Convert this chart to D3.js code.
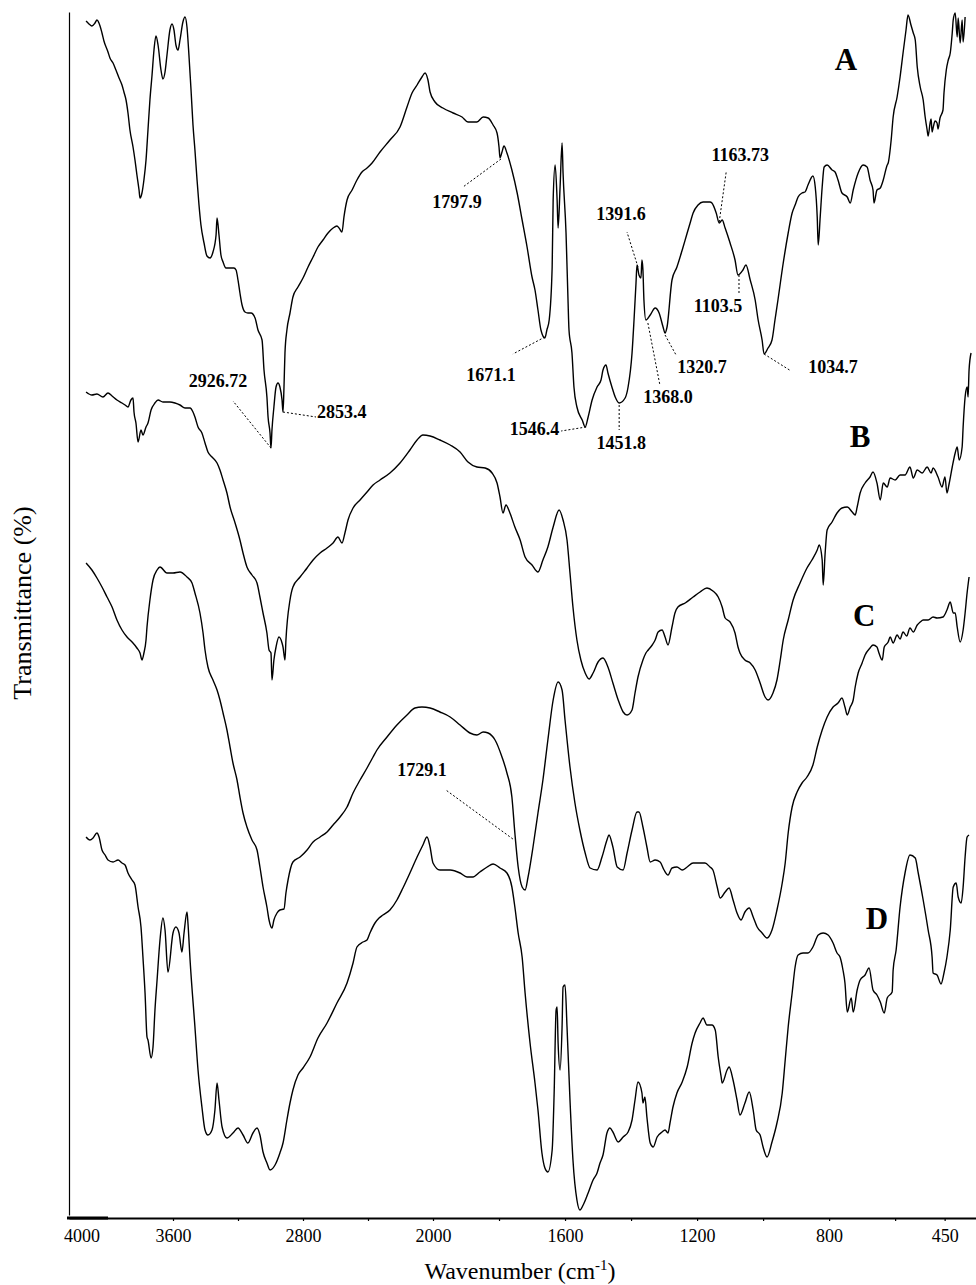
<!DOCTYPE html>
<html>
<head>
<meta charset="utf-8">
<script src="https://cdn.jsdelivr.net/npm/d3@7"></script>
<style>
  body { margin: 0; background: #fff; }
  svg text { font-family: "Liberation Serif", "Times New Roman", serif; fill: #000; }
</style>
</head>
<body>
<div id="chart"></div>
<script>
const w = 976;
const h = 1285;

// FTIR spectra: [wavenumber (cm-1), transmittance (arbitrary units)]
const specA = [
  [4135,119.4],[4117,119.1],[4099,118.9],[4080,119.2],[4068,119.5],[4049,118.9],[4037,118.2],[4025,117.4],[4000,116.3],[3988,115.7],
  [3969,115.2],[3951,114.5],[3932,113.7],[3914,113.0],[3902,112.3],[3889,111.5],[3877,110.2],[3865,108.5],[3846,106.8],[3834,105.5],
  [3822,104.0],[3809,102.5],[3803,101.7],[3791,102.2],[3779,103.5],[3766,105.5],[3754,108.5],[3742,111.5],[3729,114.0],[3717,116.5],
  [3705,117.9],[3692,117.0],[3674,114.5],[3662,113.6],[3649,114.3],[3637,116.0],[3619,118.5],[3606,119.1],[3594,118.5],[3582,117.0],
  [3569,116.5],[3557,117.5],[3539,119.3],[3526,119.8],[3514,118.8],[3502,116.0],[3489,112.5],[3477,109.0],[3465,106.5],[3452,103.5],
  [3440,101.0],[3428,99.0],[3409,97.2],[3391,95.9],[3372,95.7],[3354,96.3],[3335,98.0],[3329,99.7],[3317,98.0],[3305,96.0],
  [3292,95.3],[3274,94.7],[3249,94.7],[3225,94.7],[3212,94.5],[3200,93.5],[3188,92.2],[3175,91.0],[3157,90.3],[3139,90.2],
  [3120,90.2],[3095,89.7],[3077,88.5],[3052,87.5],[3040,84.5],[3022,81.8],[3015,79.8],[3003,78.2],[2997,76.7],[2991,78.5],
  [2979,80.8],[2966,82.8],[2954,83.2],[2942,82.8],[2929,81.5],[2923,80.3],[2917,82.8],[2911,86.2],[2899,88.5],[2880,90.2],
  [2862,91.8],[2831,92.8],[2800,93.7],[2769,94.8],[2738,95.8],[2708,96.8],[2677,97.5],[2646,98.2],[2615,98.7],[2591,98.9],
  [2578,98.7],[2560,98.3],[2548,99.8],[2529,101.5],[2498,102.5],[2468,103.5],[2437,104.3],[2406,104.7],[2375,105.2],[2326,106.3],
  [2265,107.5],[2203,108.8],[2160,110.8],[2129,112.2],[2098,113.0],[2068,113.8],[2049,114.2],[2031,113.5],[2018,112.3],[1994,111.3],
  [1970,110.7],[1939,110.2],[1912,109.8],[1894,109.3],[1867,109.3],[1848,109.8],[1833,109.7],[1818,109.0],[1806,108.2],[1800,106.8],
  [1797,105.7],[1791,106.3],[1785,106.9],[1776,106.2],[1761,104.5],[1745,102.2],[1730,99.5],[1715,96.8],[1700,93.8],[1691,92.5],
  [1682,90.5],[1673,88.5],[1661,87.7],[1655,88.5],[1648,89.5],[1639,94.8],[1636,101.5],[1630,105.0],[1624,101.5],[1621,98.7],
  [1615,102.8],[1609,107.2],[1606,104.2],[1597,98.2],[1591,91.5],[1588,88.5],[1579,86.2],[1573,82.8],[1564,80.8],[1548,79.5],
  [1539,78.8],[1530,79.8],[1518,81.5],[1503,82.8],[1491,83.5],[1485,84.5],[1476,85.0],[1470,84.2],[1458,82.8],[1448,81.8],
  [1436,81.2],[1418,81.7],[1409,82.8],[1397,86.2],[1391,89.5],[1385,93.2],[1382,95.0],[1376,94.0],[1370,93.7],[1367,95.5],
  [1364,94.5],[1361,91.5],[1355,89.5],[1342,90.0],[1327,90.7],[1315,90.2],[1303,88.8],[1297,88.2],[1291,88.8],[1276,93.5],
  [1261,94.8],[1245,96.5],[1230,98.2],[1221,99.2],[1212,100.2],[1197,101.0],[1182,101.3],[1161,101.3],[1155,101.2],[1142,100.2],
  [1133,99.2],[1124,99.5],[1115,98.7],[1100,97.2],[1085,95.5],[1076,94.0],[1061,94.5],[1052,95.0],[1039,93.5],[1024,91.5],
  [1015,89.5],[1003,87.5],[997,86.1],[985,86.7],[973,87.5],[964,89.5],[955,91.5],[939,95.2],[924,98.2],[912,100.2],
  [903,101.0],[894,101.8],[882,102.2],[873,102.3],[864,103.0],[849,103.9],[842,102.8],[836,99.8],[833,97.0],[827,99.8],
  [821,102.8],[815,104.8],[806,105.0],[791,104.5],[782,104.3],[773,103.5],[761,102.2],[745,101.8],[736,101.2],[727,102.5],
  [712,104.2],[697,105.0],[685,104.8],[676,103.5],[667,102.5],[664,101.2],[655,102.5],[645,102.7],[636,103.5],[624,105.0],
  [621,105.2],[612,107.5],[606,109.8],[594,111.8],[585,113.8],[576,116.2],[567,118.5],[561,120.0],[552,119.0],[545,118.2],
  [539,117.5],[533,114.8],[524,112.8],[515,111.5],[509,109.8],[503,108.5],[500,107.9],[494,109.2],[491,109.6],[488,108.3],
  [485,108.7],[479,109.4],[473,109.2],[470,108.6],[464,109.7],[455,110.5],[452,112.2],[445,114.5],[439,115.5],[433,116.2],
  [427,118.2],[424,119.5],[418,120.2],[412,117.8],[409,119.7],[403,117.2],[397,119.5],[394,117.3],[388,119.8]
];

const specB = [
  [4135,82.3],[4099,82.0],[4068,82.1],[4031,81.8],[4000,82.2],[3975,81.9],[3945,81.5],[3914,81.2],[3895,81.0],[3877,80.8],
  [3859,81.5],[3846,81.7],[3840,80.3],[3828,79.2],[3815,77.3],[3797,78.5],[3785,78.0],[3766,78.8],[3754,79.2],[3735,80.5],
  [3711,81.2],[3692,81.5],[3662,81.3],[3619,81.3],[3588,81.2],[3557,81.0],[3526,80.7],[3495,80.7],[3477,80.3],[3465,79.8],
  [3446,78.8],[3422,78.2],[3403,77.2],[3385,76.3],[3360,75.8],[3329,75.2],[3311,74.5],[3292,73.5],[3268,72.2],[3249,70.8],
  [3218,69.2],[3188,67.5],[3169,66.2],[3145,64.8],[3114,64.0],[3083,63.2],[3065,61.8],[3046,60.2],[3022,58.2],[3009,56.5],
  [2997,56.2],[2991,53.5],[2979,55.5],[2966,56.8],[2948,57.8],[2929,57.2],[2923,56.8],[2911,55.5],[2905,57.5],[2880,61.5],
  [2862,62.8],[2818,63.8],[2775,64.7],[2738,65.5],[2695,66.2],[2652,66.7],[2615,67.2],[2585,67.8],[2560,67.2],[2542,68.2],
  [2523,69.5],[2492,70.7],[2449,71.5],[2406,72.3],[2369,73.0],[2326,73.5],[2265,74.2],[2203,75.2],[2142,76.5],[2098,77.5],
  [2062,78.0],[2018,77.9],[1979,77.5],[1948,77.0],[1918,76.3],[1894,75.3],[1867,74.8],[1842,74.7],[1821,74.2],[1806,73.2],
  [1797,71.8],[1788,70.2],[1779,71.0],[1767,70.2],[1752,68.8],[1736,67.5],[1721,65.8],[1700,65.0],[1682,64.3],[1667,65.5],
  [1652,66.8],[1636,68.8],[1618,70.5],[1606,69.5],[1594,67.5],[1585,64.2],[1576,60.8],[1564,57.5],[1552,55.5],[1539,54.2],
  [1527,53.6],[1515,54.2],[1500,55.3],[1485,55.7],[1470,54.8],[1455,53.2],[1439,51.5],[1424,50.3],[1412,50.0],[1397,50.5],
  [1388,52.2],[1379,53.8],[1364,55.5],[1355,56.2],[1348,56.5],[1336,57.0],[1327,57.5],[1318,58.3],[1306,58.5],[1297,57.8],
  [1288,57.0],[1276,58.8],[1267,60.2],[1258,60.8],[1236,61.2],[1212,61.8],[1191,62.3],[1170,62.7],[1152,62.4],[1136,61.8],
  [1124,60.8],[1115,59.7],[1100,59.3],[1085,58.2],[1076,56.8],[1070,56.2],[1055,55.5],[1039,55.2],[1024,54.5],[1009,53.2],
  [994,51.8],[985,51.5],[970,52.2],[958,53.5],[948,55.5],[939,57.5],[924,59.5],[909,61.5],[888,63.2],[867,64.7],
  [852,65.5],[836,66.5],[830,67.0],[821,65.5],[818,63.0],[812,66.2],[806,68.5],[791,69.3],[776,70.2],[761,70.7],
  [745,70.8],[730,70.3],[721,70.0],[715,70.8],[706,72.2],[691,73.2],[676,73.8],[667,74.3],[655,73.2],[645,71.5],
  [636,73.2],[624,72.8],[615,73.7],[600,73.5],[585,74.0],[570,74.0],[555,74.8],[545,73.7],[533,74.5],[518,74.2],
  [503,74.8],[491,74.2],[485,74.7],[470,73.8],[458,72.8],[449,73.8],[443,72.2],[436,73.2],[427,74.8],[418,76.2],
  [412,76.8],[406,75.5],[397,76.8],[394,78.8],[388,81.8],[382,82.8],[379,81.8],[376,84.5],[370,86.2]
];

const specC = [
  [4135,65.2],[4099,64.5],[4068,63.7],[4037,62.8],[4006,61.8],[3975,60.8],[3945,59.5],[3914,58.5],[3883,57.8],[3852,57.3],
  [3822,56.7],[3803,56.2],[3791,55.5],[3779,56.2],[3766,57.5],[3760,58.8],[3742,61.5],[3723,63.5],[3698,64.5],[3680,64.8],
  [3637,64.2],[3600,64.2],[3557,64.3],[3514,63.8],[3483,63.2],[3465,62.2],[3434,60.2],[3415,58.2],[3403,56.5],[3385,54.8],
  [3354,53.5],[3329,52.5],[3311,51.5],[3292,50.2],[3268,48.5],[3249,46.8],[3231,45.2],[3206,43.5],[3188,41.8],[3169,40.2],
  [3145,38.8],[3114,37.5],[3083,36.5],[3065,34.8],[3046,32.8],[3022,30.8],[3009,29.5],[2991,28.7],[2979,29.5],[2960,30.2],
  [2942,30.5],[2917,30.6],[2905,32.2],[2892,33.5],[2862,35.3],[2818,35.8],[2775,36.5],[2738,37.3],[2695,37.8],[2652,38.3],
  [2615,39.0],[2572,39.8],[2529,40.8],[2492,42.2],[2449,43.5],[2406,44.7],[2369,45.8],[2345,46.5],[2283,47.8],[2222,49.0],
  [2160,50.0],[2111,50.7],[2068,50.8],[2018,50.7],[1979,50.3],[1948,49.8],[1918,49.0],[1888,48.2],[1867,48.0],[1848,48.3],
  [1833,48.2],[1812,47.5],[1791,45.8],[1776,44.2],[1761,41.8],[1752,38.2],[1742,34.8],[1730,32.8],[1721,32.5],[1712,33.8],
  [1697,36.8],[1682,40.2],[1667,43.5],[1652,47.5],[1636,51.5],[1621,53.3],[1609,52.5],[1600,49.5],[1585,44.8],[1570,41.2],
  [1555,38.5],[1539,36.2],[1524,34.7],[1503,34.5],[1488,35.8],[1473,37.5],[1467,38.0],[1455,36.8],[1442,34.8],[1424,34.5],
  [1412,36.2],[1397,38.5],[1382,40.3],[1376,40.3],[1364,38.8],[1352,36.8],[1342,35.3],[1327,35.5],[1312,35.3],[1300,34.5],
  [1288,34.0],[1276,34.7],[1261,34.8],[1245,34.5],[1230,34.8],[1212,35.2],[1191,35.2],[1176,35.2],[1161,34.8],[1152,34.5],
  [1139,32.8],[1130,31.7],[1115,32.3],[1103,32.7],[1091,31.5],[1079,30.2],[1067,29.5],[1055,30.3],[1042,30.7],[1030,29.8],
  [1018,28.8],[1003,28.2],[988,27.7],[973,28.5],[958,30.5],[942,33.2],[933,35.2],[924,38.2],[912,40.8],[897,42.3],
  [882,43.2],[867,43.8],[849,45.0],[836,46.8],[821,48.5],[806,49.8],[788,50.8],[773,51.2],[761,51.7],[752,50.8],
  [745,50.0],[736,50.8],[727,51.5],[721,52.8],[712,54.2],[700,55.2],[691,56.0],[676,56.7],[667,57.0],[655,56.8],
  [649,56.2],[639,55.5],[633,56.8],[621,57.3],[615,57.8],[606,57.2],[594,58.0],[585,57.6],[576,58.3],[565,57.9],
  [555,58.7],[545,58.3],[533,59.0],[524,59.3],[515,59.5],[500,59.5],[485,59.8],[473,59.7],[455,59.8],[443,60.5],
  [433,61.3],[424,60.2],[418,60.2],[412,58.8],[403,57.3],[394,58.5],[388,60.2],[382,62.2],[376,63.8]
];

const specD = [
  [4135,37.8],[4111,37.5],[4092,37.7],[4068,38.2],[4055,37.8],[4037,36.5],[4018,36.0],[4000,35.5],[3969,35.3],[3938,35.5],
  [3914,35.2],[3895,35.0],[3877,34.2],[3852,33.5],[3834,33.0],[3815,30.8],[3797,28.8],[3785,25.8],[3772,22.2],[3760,17.8],
  [3754,17.5],[3735,15.7],[3723,16.8],[3711,20.5],[3698,23.5],[3680,27.5],[3662,29.7],[3649,28.5],[3631,24.3],[3600,28.2],
  [3582,28.8],[3563,28.2],[3545,26.3],[3532,28.2],[3514,30.3],[3508,29.2],[3495,25.5],[3465,18.8],[3446,14.5],[3422,10.8],
  [3403,8.5],[3385,8.0],[3360,8.5],[3342,10.5],[3329,13.2],[3317,11.5],[3298,8.8],[3268,7.7],[3231,8.2],[3200,8.7],
  [3169,8.0],[3139,7.2],[3108,8.2],[3083,8.7],[3065,8.0],[3046,6.3],[3022,5.2],[3003,4.5],[2972,5.0],[2942,6.2],
  [2923,7.2],[2899,9.5],[2880,11.2],[2862,12.5],[2831,14.0],[2800,14.7],[2757,15.8],[2708,17.7],[2652,19.2],[2591,21.2],
  [2529,23.2],[2492,25.2],[2468,26.8],[2431,27.3],[2406,27.5],[2388,28.2],[2357,29.2],[2332,29.7],[2308,30.0],[2265,30.5],
  [2222,31.5],[2185,32.7],[2142,34.2],[2098,35.8],[2062,37.0],[2037,37.8],[2018,36.8],[2000,35.2],[1979,34.5],[1948,34.5],
  [1918,34.2],[1897,33.8],[1879,33.8],[1858,34.3],[1836,34.8],[1818,35.1],[1797,34.7],[1776,34.2],[1761,32.8],[1752,30.8],
  [1742,28.2],[1730,25.8],[1721,22.2],[1706,17.2],[1691,13.2],[1682,10.5],[1670,6.2],[1661,4.7],[1652,4.3],[1639,6.5],
  [1633,12.2],[1627,20.5],[1624,20.8],[1621,17.2],[1615,14.5],[1609,18.8],[1606,22.8],[1600,23.0],[1594,18.8],[1585,11.5],
  [1576,5.5],[1564,1.5],[1555,0.5],[1545,1.0],[1530,2.2],[1515,3.5],[1503,4.2],[1494,5.2],[1485,6.0],[1473,8.2],
  [1464,8.7],[1455,8.3],[1439,7.3],[1424,7.8],[1409,8.3],[1397,9.5],[1388,11.5],[1379,13.3],[1367,12.2],[1364,11.2],
  [1358,11.8],[1352,9.8],[1342,7.2],[1333,6.8],[1321,7.8],[1306,8.3],[1297,8.5],[1288,8.2],[1282,9.2],[1273,10.8],
  [1261,12.2],[1245,13.3],[1230,14.8],[1215,17.2],[1206,18.2],[1191,19.2],[1182,19.7],[1170,19.0],[1155,19.0],[1145,18.5],
  [1136,15.8],[1127,13.8],[1124,13.2],[1109,14.5],[1103,14.8],[1091,13.5],[1079,11.5],[1070,10.0],[1055,11.2],[1042,12.3],
  [1030,10.5],[1021,8.5],[1009,8.0],[1000,6.8],[988,5.8],[973,7.3],[958,9.2],[942,12.2],[933,15.5],[924,18.8],
  [912,22.2],[903,24.8],[894,26.0],[879,26.2],[864,26.2],[849,26.8],[833,28.0],[818,28.2],[803,28.0],[788,27.2],
  [776,26.2],[767,25.8],[758,24.5],[752,23.2],[745,20.3],[733,21.7],[727,20.3],[715,22.5],[706,23.5],[691,24.0],
  [679,24.7],[667,22.5],[655,22.0],[645,21.3],[633,20.2],[624,21.7],[609,22.3],[606,24.5],[597,26.5],[585,30.8],
  [570,34.2],[555,36.0],[539,35.7],[530,34.2],[515,31.5],[500,28.5],[488,25.8],[485,24.2],[473,24.0],[461,23.1],
  [452,24.2],[443,25.8],[433,28.5],[424,32.8],[415,33.2],[409,31.8],[400,31.2],[394,32.8],[388,35.8],[382,37.8],[376,38.0]
];

const seriesNames = ["A", "B", "C", "D"];
const seriesData = [specA, specB, specC, specD];
// where each curve's letter sits, in chart units [wavenumber, transmittance]
const namePos = [[749, 114.5], [706, 76.8], [694, 58.9], [655, 28.6]];

// annotated bands: label, anchor on the curve [wavenumber, transmittance]
const peakText = ["1797.9", "1671.1", "1546.4", "1451.8", "1391.6", "1368.0", "1320.7",
  "1163.73", "1103.5", "1034.7", "2926.72", "2853.4", "1729.1"];
const peakAnchor = [[1794, 105.6], [1661, 87.8], [1536, 78.8], [1436, 81.0], [1379, 94.8],
  [1349, 89.2], [1297, 88.0], [1133, 99.3], [1073, 94.0], [997, 86.1], [2997, 76.7],
  [2923, 80.3], [1758, 37.6]];
// leader line end and text offsets (px) from the anchor
const peakOffset = [
  [-38, 28, -44, 49, "middle"], [-32, 17, -54, 44, "middle"], [-25, 4, -27, 8, "end"],
  [0, 25, 2, 44, "middle"], [-11, -35, -17, -47, "middle"], [12, 62, 20, 80, "middle"],
  [11, 20, 37, 38, "middle"], [7, -50, 21, -61, "middle"], [0, 18, -21, 37, "middle"],
  [27, 17, 69, 19, "middle"], [-38, -47, -53, -61, "middle"], [33, 5, 34, 6, "start"],
  [-67, -49, -91, -63, "middle"]
];

const tickVals = [3600, 3200, 2800, 2400, 2000, 1800, 1600, 1400, 1200, 1000, 800, 600, 450];
const tickLabeled = [3600, 2800, 2000, 1600, 1200, 800, 450];

const svg = d3.select("#chart").append("svg").attr("width", w).attr("height", h);

// expanded scale below 2000 cm-1, as on the instrument print-out
const xScale = d3.scaleLinear().domain([4240, 2000, 355]).range([69, 433, 976]);
const yScale = d3.scaleLinear().domain([0, 120.3]).range([1215, 12]);

const xAxis = d3.axisBottom(xScale)
  .tickValues(tickVals)
  .tickFormat((d) => (tickLabeled.includes(d) ? d : ""))
  .tickSizeInner(3)
  .tickSizeOuter(0)
  .tickPadding(8);
const gx = svg.append("g").attr("transform", "translate(0,1218)").call(xAxis);
gx.select(".domain").attr("stroke", "#000").attr("stroke-width", 2);
gx.selectAll(".tick line").attr("stroke", "#000").attr("stroke-width", 1.2);
gx.selectAll(".tick text")
  .style("font-family", '"Liberation Serif", serif')
  .style("font-size", "18px");
// thick stub at the start of the axis and the "4000" label
svg.append("line")
  .attr("x1", xScale(4240) - 2).attr("x2", xScale(4000))
  .attr("y1", 1218).attr("y2", 1218)
  .attr("stroke", "#000").attr("stroke-width", 3);
svg.append("text")
  .attr("x", xScale(4240) + 13).attr("y", 1242)
  .attr("text-anchor", "middle")
  .style("font-size", "18px")
  .text("4000");

const yAxis = d3.axisLeft(yScale).tickValues([]).tickSizeOuter(0);
const gy = svg.append("g").attr("transform", "translate(69,0)").call(yAxis);
gy.select(".domain").attr("stroke", "#000").attr("stroke-width", 1.2);

const line = d3.line()
  .x((d) => xScale(d[0]))
  .y((d) => yScale(d[1]))
  .curve(d3.curveMonotoneX);

svg.selectAll("path.spec")
  .data(seriesData)
  .enter()
  .append("path")
  .attr("class", "spec")
  .attr("d", line)
  .attr("fill", "none")
  .attr("stroke", "#000")
  .attr("stroke-width", 1.4)
  .attr("stroke-linejoin", "round");

svg.selectAll("text.sname")
  .data(seriesNames)
  .enter()
  .append("text")
  .attr("class", "sname")
  .attr("x", (d, i) => xScale(namePos[i][0]))
  .attr("y", (d, i) => yScale(namePos[i][1]))
  .attr("text-anchor", "middle")
  .style("font-size", "31px")
  .style("font-weight", "bold")
  .text((d) => d);

const peaks = svg.selectAll("g.peak")
  .data(peakText)
  .enter()
  .append("g")
  .attr("class", "peak")
  .attr("transform", (d, i) =>
    "translate(" + xScale(peakAnchor[i][0]) + "," + yScale(peakAnchor[i][1]) + ")");
peaks.append("line")
  .attr("x1", 0).attr("y1", 0)
  .attr("x2", (d, i) => peakOffset[i][0])
  .attr("y2", (d, i) => peakOffset[i][1])
  .attr("stroke", "#000")
  .attr("stroke-width", 1)
  .attr("stroke-dasharray", "2,2");
peaks.append("text")
  .attr("x", (d, i) => peakOffset[i][2])
  .attr("y", (d, i) => peakOffset[i][3])
  .attr("text-anchor", (d, i) => peakOffset[i][4])
  .style("font-size", "18px")
  .style("font-weight", "bold")
  .text((d) => d);

svg.append("text")
  .attr("transform", "translate(31,603) rotate(-90)")
  .attr("text-anchor", "middle")
  .style("font-size", "26px")
  .text("Transmittance (%)");

const xl = svg.append("text")
  .attr("x", 520).attr("y", 1279)
  .attr("text-anchor", "middle")
  .style("font-size", "24px");
xl.append("tspan").text("Wavenumber (cm");
xl.append("tspan").attr("dy", -9).style("font-size", "15px").text("-1");
xl.append("tspan").attr("dy", 9).text(")");
</script>
</body>
</html>
